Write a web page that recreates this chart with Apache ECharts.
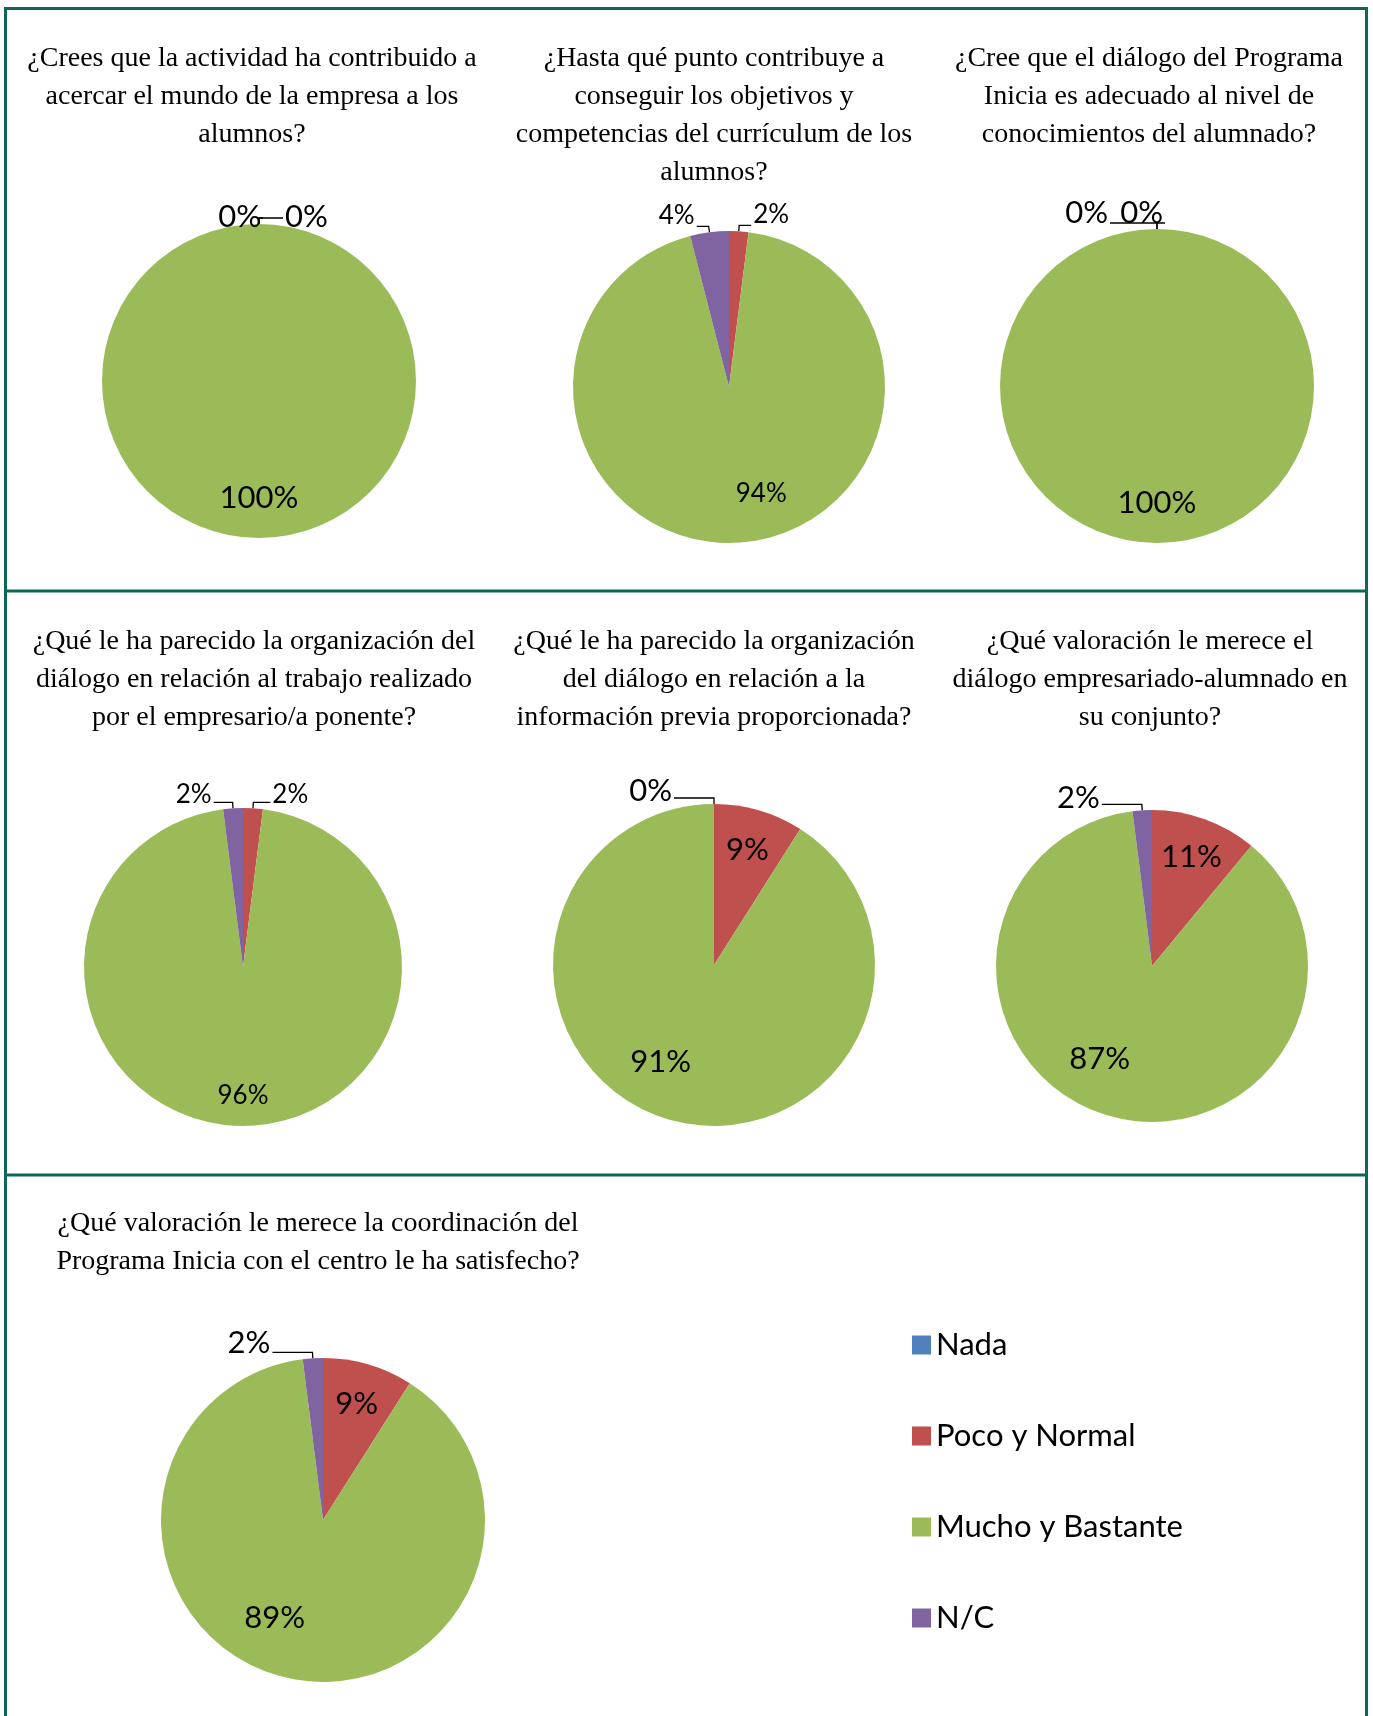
<!DOCTYPE html>
<html>
<head>
<meta charset="utf-8">
<title>Valoración Programa Inicia</title>
<script src="https://cdn.jsdelivr.net/npm/echarts@6/dist/echarts.min.js"></script>
<style>
  html, body { margin: 0; padding: 0; background: #fff; }
  #chart { width: 1373px; height: 1716px; }
</style>
</head>
<body>
<div id="chart"></div>
<script>
// categorías de respuesta (orden horario desde las 12)
var categorias = ['Nada', 'Poco y Normal', 'Mucho y Bastante', 'N/C'];

// preguntas, con los saltos de línea del original
var preguntas = [
  '¿Crees que la actividad ha contribuido a\nacercar el mundo de la empresa a los\nalumnos?',
  '¿Hasta qué punto contribuye a\nconseguir los objetivos y\ncompetencias del currículum de los\nalumnos?',
  '¿Cree que el diálogo del Programa\nInicia es adecuado al nivel de\nconocimientos del alumnado?',
  '¿Qué le ha parecido la organización del\ndiálogo en relación al trabajo realizado\npor el empresario/a ponente?',
  '¿Qué le ha parecido la organización\ndel diálogo en relación a la\ninformación previa proporcionada?',
  '¿Qué valoración le merece el\ndiálogo empresariado-alumnado en\nsu conjunto?',
  '¿Qué valoración le merece la coordinación del\nPrograma Inicia con el centro le ha satisfecho?'
];

// porcentajes (null = sin etiqueta en el original)
var nada  = [0,    null, 0,    null, 0,    null, null];
var poco  = [0,    2,    0,    2,    9,    11,   9];
var mucho = [100,  94,   100,  96,   91,   87,   89];
var nc    = [null, 4,    null, 2,    null, 2,    2];

var valores = [nada, poco, mucho, nc];

// estilo y posiciones
var colores = { 'Nada': '#4F81BD', 'Poco y Normal': '#C0504D', 'Mucho y Bastante': '#9BBB59', 'N/C': '#8064A2' };
var lado = { 'Nada': -1, 'Poco y Normal': 1, 'Mucho y Bastante': 1, 'N/C': -1 };
var centros = [[259, 381], [729, 387], [1157, 386], [243, 967], [714, 965], [1152, 966], [323, 1520]];
var radios = [157, 156, 157, 159, 161, 156, 162];
var posTitulo = [[252, 40], [714, 40], [1149, 40], [254, 623], [714, 623], [1150, 623], [318, 1205]];
var tamEtiqueta = [31, 26, 31, 26, 31, 31, 31];
// guía de las etiquetas exteriores: tramo horizontal (izq / der) y ajuste vertical
var guiaIzq = [-4, 12, 47, 19, 40, 40, 40];
var guiaDer = [24, 12, 24, 17, 24, 24, 24];
var guiaDy = [9, -3, 0, 0, 3, 4, 1];
var ladoEspecial = { '2|Poco y Normal': [-1, -8] };
// desplazamiento de las etiquetas interiores grandes (como Excel)
var ajusteInterior = [[0, 0], [25, -9], [0, 0], [0, 10], [-20, -18], [-20, -18], [-22, -20]];
var borde = '#0E6656';

var myChart = echarts.init(document.getElementById('chart'));

var datos = preguntas.map(function (q, i) {
  var d = [];
  categorias.forEach(function (c, k) {
    if (valores[k][i] != null) d.push({ name: c, value: valores[k][i] });
  });
  return d;
});

var series = [];
// sectores visibles + etiquetas exteriores (sectores pequeños)
datos.forEach(function (d, i) {
  series.push({
    type: 'pie',
    center: centros[i],
    radius: radios[i],
    startAngle: 90,
    avoidLabelOverlap: false,
    animation: false,
    silent: true,
    data: d.map(function (it) {
      return {
        name: it.name, value: it.value,
        itemStyle: { color: colores[it.name] },
        label: { show: it.value < 5 },
        labelLine: { show: it.value < 5 }
      };
    }),
    label: {
      position: 'outside',
      formatter: '{c}%',
      fontFamily: 'Lato',
      fontSize: tamEtiqueta[i],
      color: '#000'
    },
    labelLine: { length: 6, length2: 16, smooth: false, lineStyle: { color: '#000', width: 1.3 } },
    labelLayout: function (p) {
      var pts = p.labelLinePoints;
      if (!pts) return {};
      var nombre = d[p.dataIndex].name;
      var s = lado[nombre];
      var largo = s < 0 ? guiaIzq[i] : guiaDer[i];
      var esp = ladoEspecial[i + '|' + nombre];
      if (esp) { s = esp[0]; largo = esp[1]; }
      var a = pts[0], b = pts[1];
      var c = [b[0] + s * largo, b[1]];
      return {
        x: c[0] + s * 2,
        y: c[1] + 5 + guiaDy[i],
        align: s < 0 ? 'right' : 'left',
        verticalAlign: 'bottom',
        labelLinePoints: [a, b, c]
      };
    }
  });
});
// etiquetas interiores (sectores grandes), en un anillo transparente más amplio
datos.forEach(function (d, i) {
  series.push({
    type: 'pie',
    center: centros[i],
    radius: radios[i] * 1.45,
    startAngle: 90,
    animation: false,
    silent: true,
    data: d.map(function (it) {
      return {
        name: it.name, value: it.value,
        itemStyle: { color: 'rgba(0,0,0,0)' },
        label: {
          show: it.value >= 5,
          offset: it.value >= 50 ? ajusteInterior[i] : [0, 0]
        }
      };
    }),
    label: {
      position: 'inside',
      formatter: '{c}%',
      fontFamily: 'Lato',
      fontSize: tamEtiqueta[i],
      color: '#000'
    },
    labelLine: { show: false }
  });
});

var option = {
  backgroundColor: '#fff',
  title: preguntas.map(function (q, i) {
    return {
      text: q,
      left: posTitulo[i][0],
      top: posTitulo[i][1],
      textAlign: 'center',
      padding: 0,
      textStyle: { fontFamily: 'Liberation Serif', fontSize: 28, fontWeight: 'normal', lineHeight: 38, color: '#000' }
    };
  }),
  legend: {
    orient: 'vertical',
    left: 907,
    top: 1324,
    itemWidth: 19,
    itemHeight: 19,
    itemGap: 59,
    icon: 'rect',
    selectedMode: false,
    data: categorias,
    textStyle: { fontFamily: 'Lato', fontSize: 31, lineHeight: 32, color: '#000' }
  },
  graphic: [
    { type: 'line', shape: { x1: 4, y1: 8.5, x2: 1368, y2: 8.5 }, style: { stroke: borde, lineWidth: 3 } },
    { type: 'line', shape: { x1: 5.5, y1: 7, x2: 5.5, y2: 1716 }, style: { stroke: borde, lineWidth: 3 } },
    { type: 'line', shape: { x1: 1366.5, y1: 7, x2: 1366.5, y2: 1716 }, style: { stroke: borde, lineWidth: 3 } },
    { type: 'line', shape: { x1: 4, y1: 591, x2: 1368, y2: 591 }, style: { stroke: borde, lineWidth: 3 } },
    { type: 'line', shape: { x1: 4, y1: 1175, x2: 1368, y2: 1175 }, style: { stroke: borde, lineWidth: 3 } }
  ],
  series: series
};

myChart.setOption(option);
</script>
</body>
</html>
